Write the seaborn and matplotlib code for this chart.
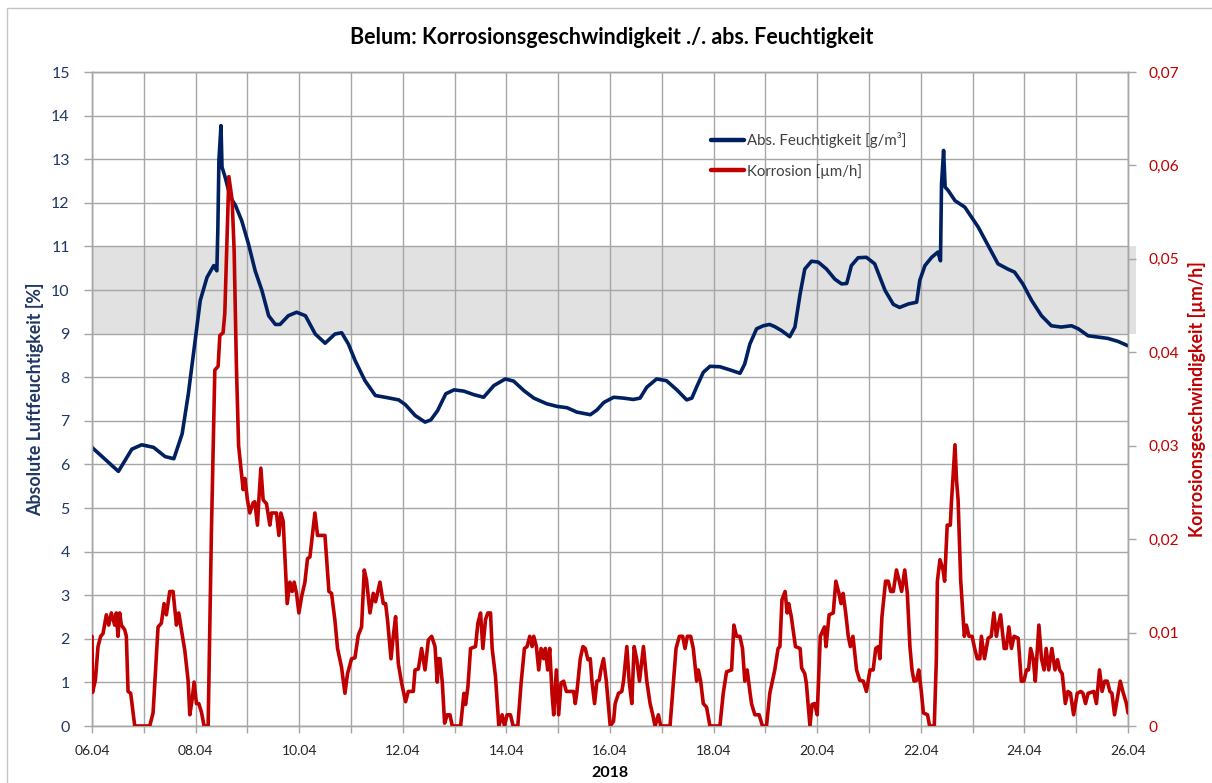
import matplotlib
matplotlib.use("Agg")
import matplotlib.pyplot as plt
from matplotlib.lines import Line2D
from matplotlib.patches import Rectangle
import pandas as pd
import seaborn as sns

# Tage seit 06.04.2018 00:00 -> absolute Feuchtigkeit [g/m³]
feuchte_tage = [
    0.00, 0.51, 0.77, 0.96, 1.19, 1.41, 1.58, 1.74, 1.86, 1.99, 2.09, 2.22, 2.35, 2.41,
    2.43, 2.45, 2.49, 2.51, 2.57, 2.67, 2.77, 2.89, 3.02, 3.15, 3.28, 3.41, 3.54, 3.63,
    3.79, 3.95, 4.12, 4.31, 4.50, 4.69, 4.82, 4.95, 5.08, 5.27, 5.47, 5.66, 5.92, 6.05,
    6.24, 6.43, 6.54, 6.67, 6.83, 6.99, 7.18, 7.37, 7.56, 7.76, 7.98, 8.14, 8.34, 8.53,
    8.78, 8.98, 9.17, 9.36, 9.62, 9.75, 9.88, 10.07, 10.26, 10.45, 10.58, 10.71, 10.90,
    11.09, 11.29, 11.48, 11.58, 11.67, 11.80, 11.93, 12.12, 12.31, 12.51, 12.60, 12.70,
    12.83, 12.96, 13.08, 13.18, 13.31, 13.47, 13.57, 13.67, 13.76, 13.89, 14.02, 14.18,
    14.34, 14.47, 14.57, 14.66, 14.79, 14.95, 15.11, 15.31, 15.47, 15.59, 15.76, 15.92,
    15.98, 16.08, 16.21, 16.33, 16.38, 16.40, 16.44, 16.47, 16.53, 16.66, 16.85, 16.98,
    17.11, 17.30, 17.49, 17.68, 17.81, 17.97, 18.14, 18.33, 18.52, 18.71, 18.91, 19.04,
    19.23, 19.42, 19.61, 19.81, 20.00,
]
feuchte_werte = [
    6.39, 5.84, 6.35, 6.45, 6.39, 6.18, 6.13, 6.70, 7.62, 8.84, 9.76, 10.29, 10.56, 10.44,
    11.44, 12.97, 13.77, 12.82, 12.59, 12.13, 11.94, 11.59, 11.06, 10.44, 9.99, 9.41, 9.21, 9.21,
    9.41, 9.49, 9.41, 8.99, 8.78, 8.99, 9.02, 8.76, 8.38, 7.92, 7.58, 7.54, 7.48, 7.37,
    7.12, 6.97, 7.02, 7.23, 7.62, 7.71, 7.68, 7.60, 7.54, 7.81, 7.96, 7.91, 7.69, 7.52,
    7.39, 7.33, 7.30, 7.20, 7.14, 7.25, 7.42, 7.54, 7.52, 7.49, 7.52, 7.77, 7.96,
    7.92, 7.71, 7.48, 7.52, 7.77, 8.11, 8.25, 8.24, 8.17, 8.09, 8.30, 8.76,
    9.11, 9.18, 9.21, 9.16, 9.07, 8.93, 9.15, 9.91, 10.48, 10.66, 10.64, 10.48,
    10.25, 10.14, 10.15, 10.56, 10.74, 10.75, 10.60, 9.99, 9.67, 9.60, 9.68, 9.72,
    10.22, 10.56, 10.75, 10.87, 10.67, 12.43, 13.20, 12.36, 12.28, 12.05, 11.90, 11.67,
    11.44, 11.02, 10.60, 10.48, 10.41, 10.14, 9.76, 9.41, 9.18, 9.15, 9.18, 9.11,
    8.95, 8.92, 8.89, 8.82, 8.72,
]

# Tage seit 06.04.2018 00:00 -> Korrosionsgeschwindigkeit [µm/h]
korrosion_tage = [
    0.000, 0.010, 0.065, 0.116, 0.168, 0.213, 0.277, 0.322, 0.374, 0.438, 0.470, 0.502,
    0.535, 0.567, 0.631, 0.663, 0.696, 0.747, 0.825, 1.114, 1.179, 1.275, 1.339, 1.391,
    1.436, 1.501, 1.565, 1.630, 1.675, 1.726, 1.791, 1.855, 1.888, 1.932, 1.971, 2.016,
    2.062, 2.112, 2.164, 2.242, 2.305, 2.371, 2.435, 2.468, 2.531, 2.564, 2.642, 2.705,
    2.744, 2.788, 2.830, 2.899, 2.918, 2.951, 3.001, 3.047, 3.111, 3.143, 3.194, 3.221,
    3.260, 3.304, 3.368, 3.434, 3.465, 3.561, 3.608, 3.646, 3.691, 3.724, 3.768, 3.820,
    3.865, 3.903, 3.948, 3.994, 4.045, 4.110, 4.160, 4.207, 4.251, 4.303, 4.354, 4.497,
    4.574, 4.624, 4.690, 4.740, 4.817, 4.883, 4.933, 5.011, 5.076, 5.140, 5.204, 5.256,
    5.300, 5.366, 5.430, 5.474, 5.559, 5.623, 5.668, 5.706, 5.772, 5.816, 5.861, 5.913,
    5.977, 6.054, 6.106, 6.203, 6.236, 6.300, 6.363, 6.429, 6.493, 6.557, 6.622, 6.665,
    6.690, 6.718, 6.763, 6.807, 6.859, 6.910, 6.955, 7.116, 7.180, 7.212, 7.257, 7.308,
    7.404, 7.449, 7.501, 7.546, 7.597, 7.642, 7.693, 7.725, 7.789, 7.854, 7.918, 7.963,
    8.014, 8.078, 8.130, 8.220, 8.284, 8.348, 8.399, 8.451, 8.496, 8.528, 8.579, 8.624,
    8.669, 8.720, 8.752, 8.797, 8.836, 8.881, 8.913, 8.964, 9.009, 9.054, 9.105, 9.157,
    9.298, 9.330, 9.362, 9.426, 9.478, 9.522, 9.574, 9.619, 9.651, 9.702, 9.747, 9.792,
    9.824, 9.875, 9.927, 10.004, 10.068, 10.100, 10.164, 10.228, 10.261, 10.325, 10.370,
    10.421, 10.466, 10.517, 10.569, 10.646, 10.710, 10.774, 10.825, 10.870, 10.934,
    10.979, 11.159, 11.211, 11.275, 11.339, 11.403, 11.448, 11.493, 11.557, 11.608,
    11.673, 11.705, 11.750, 11.801, 11.865, 11.929, 12.122, 12.186, 12.250, 12.347,
    12.392, 12.443, 12.507, 12.558, 12.603, 12.648, 12.700, 12.732, 12.796, 12.879,
    12.943, 13.021, 13.085, 13.181, 13.245, 13.280, 13.320, 13.380, 13.420, 13.450,
    13.500, 13.580, 13.670, 13.700, 13.760, 13.790, 13.860, 13.900, 13.950, 14.000,
    14.060, 14.140, 14.170, 14.230, 14.310, 14.360, 14.420, 14.460, 14.500, 14.550,
    14.600, 14.640, 14.690, 14.760, 14.820, 14.890, 14.950, 15.020, 15.080, 15.130,
    15.180, 15.210, 15.250, 15.320, 15.370, 15.420, 15.470, 15.530, 15.580, 15.630,
    15.690, 15.740, 15.790, 15.830, 15.870, 15.920, 15.960, 16.010, 16.050, 16.130,
    16.170, 16.260, 16.300, 16.320, 16.370, 16.430, 16.460, 16.510, 16.570, 16.590,
    16.660, 16.690, 16.720, 16.770, 16.840, 16.880, 16.930, 16.990, 17.040, 17.090,
    17.140, 17.170, 17.230, 17.300, 17.360, 17.410, 17.460, 17.490, 17.540, 17.610,
    17.650, 17.700, 17.750, 17.800, 17.880, 17.940, 17.990, 18.040, 18.080, 18.120,
    18.170, 18.210, 18.280, 18.330, 18.380, 18.420, 18.470, 18.530, 18.590, 18.640,
    18.680, 18.730, 18.790, 18.840, 18.890, 18.950, 19.020, 19.090, 19.130, 19.180,
    19.230, 19.340, 19.390, 19.450, 19.500, 19.550, 19.600, 19.650, 19.690, 19.740,
    19.810, 19.850, 19.900, 19.970, 20.000,
]
korrosion_werte = [
    0.0096, 0.0036, 0.0049, 0.0085, 0.0096, 0.0099, 0.0119, 0.0108, 0.0121, 0.0108, 0.0121, 0.0096,
    0.0121, 0.0108, 0.0103, 0.0096, 0.0037, 0.0035, 0.0000, 0.0000, 0.0014, 0.0106, 0.0110, 0.0131,
    0.0119, 0.0144, 0.0144, 0.0108, 0.0121, 0.0103, 0.0081, 0.0049, 0.0012, 0.0028, 0.0047, 0.0024,
    0.0024, 0.0015, 0.0000, 0.0000, 0.0207, 0.0381, 0.0385, 0.0418, 0.0421, 0.0442, 0.0588, 0.0563,
    0.0509, 0.0385, 0.0300, 0.0263, 0.0253, 0.0265, 0.0242, 0.0228, 0.0239, 0.0240, 0.0215, 0.0242,
    0.0276, 0.0242, 0.0238, 0.0215, 0.0228, 0.0228, 0.0204, 0.0228, 0.0219, 0.0181, 0.0131, 0.0154,
    0.0144, 0.0154, 0.0142, 0.0121, 0.0138, 0.0154, 0.0179, 0.0181, 0.0203, 0.0228, 0.0204, 0.0204,
    0.0144, 0.0142, 0.0113, 0.0083, 0.0063, 0.0035, 0.0056, 0.0072, 0.0073, 0.0097, 0.0106, 0.0167,
    0.0156, 0.0121, 0.0142, 0.0133, 0.0154, 0.0131, 0.0131, 0.0113, 0.0072, 0.0096, 0.0117, 0.0067,
    0.0046, 0.0026, 0.0037, 0.0037, 0.0060, 0.0061, 0.0083, 0.0060, 0.0092, 0.0096, 0.0085, 0.0047,
    0.0072, 0.0072, 0.0046, 0.0003, 0.0012, 0.0012, 0.0000, 0.0000, 0.0035, 0.0023, 0.0042, 0.0083,
    0.0085, 0.0110, 0.0121, 0.0083, 0.0114, 0.0121, 0.0121, 0.0083, 0.0053, 0.0000, 0.0012, 0.0000,
    0.0012, 0.0012, 0.0000, 0.0000, 0.0046, 0.0083, 0.0085, 0.0096, 0.0085, 0.0096, 0.0085, 0.0060,
    0.0083, 0.0072, 0.0083, 0.0060, 0.0083, 0.0035, 0.0012, 0.0060, 0.0012, 0.0046, 0.0048, 0.0037,
    0.0037, 0.0024, 0.0037, 0.0072, 0.0085, 0.0083, 0.0071, 0.0072, 0.0048, 0.0024, 0.0048, 0.0049,
    0.0060, 0.0072, 0.0049, 0.0000, 0.0005, 0.0024, 0.0035, 0.0037, 0.0048, 0.0085, 0.0048,
    0.0024, 0.0085, 0.0071, 0.0048, 0.0085, 0.0048, 0.0024, 0.0012, 0.0000, 0.0012,
    0.0000, 0.0000, 0.0037, 0.0083, 0.0096, 0.0096, 0.0083, 0.0096, 0.0096, 0.0083,
    0.0048, 0.0060, 0.0048, 0.0024, 0.0020, 0.0000, 0.0000, 0.0035, 0.0058, 0.0060,
    0.0108, 0.0096, 0.0096, 0.0083, 0.0048, 0.0060, 0.0037, 0.0024, 0.0012, 0.0012,
    0.0000, 0.0000, 0.0035, 0.0060, 0.0083, 0.0085, 0.0135, 0.0144, 0.0121, 0.0131,
    0.0117, 0.0085, 0.0083, 0.0062, 0.0056, 0.0046, 0.0000, 0.0023, 0.0024, 0.0012,
    0.0096, 0.0106, 0.0085, 0.0119, 0.0121, 0.0155, 0.0142, 0.0131, 0.0142, 0.0121,
    0.0096, 0.0085, 0.0096, 0.0060, 0.0049, 0.0048, 0.0037, 0.0060, 0.0060, 0.0083,
    0.0085, 0.0072, 0.0117, 0.0155, 0.0155, 0.0144, 0.0144, 0.0167, 0.0156, 0.0144,
    0.0167, 0.0142, 0.0085, 0.0060, 0.0048, 0.0049, 0.0060, 0.0037, 0.0014, 0.0012,
    0.0000, 0.0000, 0.0071, 0.0155, 0.0178, 0.0167, 0.0155, 0.0215, 0.0215, 0.0238,
    0.0301, 0.0263, 0.0242, 0.0156, 0.0096, 0.0108, 0.0096, 0.0096, 0.0083, 0.0072,
    0.0072, 0.0096, 0.0072, 0.0094, 0.0096, 0.0121, 0.0096, 0.0106, 0.0119, 0.0083,
    0.0083, 0.0106, 0.0083, 0.0096, 0.0094, 0.0048, 0.0048, 0.0060, 0.0060, 0.0083,
    0.0072, 0.0048, 0.0108, 0.0072, 0.0060, 0.0083, 0.0060, 0.0083, 0.0060, 0.0071,
    0.0060, 0.0056, 0.0024, 0.0037, 0.0035, 0.0012, 0.0035, 0.0037, 0.0035, 0.0024,
    0.0035, 0.0037, 0.0024, 0.0060, 0.0037, 0.0048, 0.0048, 0.0037, 0.0035, 0.0012,
    0.0035, 0.0048, 0.0037, 0.0024, 0.0014,
]

datum_labels = ["06.04", "08.04", "10.04", "12.04", "14.04", "16.04",
                "18.04", "20.04", "22.04", "24.04", "26.04"]
feuchte_ticks = list(range(0, 16))
korrosion_ticks = [0.0, 0.01, 0.02, 0.03, 0.04, 0.05, 0.06, 0.07]
korrosion_ticklabels = ["0", "0,01", "0,02", "0,03", "0,04", "0,05", "0,06", "0,07"]
band_unten, band_oben = 9, 11

BLAU = "#002060"
ROT = "#C00000"
GITTER = "#a6a6a6"

sns.set_theme(style="white")
plt.rcParams["font.family"] = ["Lato", "DejaVu Sans"]

fig = plt.figure(figsize=(12.12, 7.83), dpi=100)
ax = fig.add_axes([92 / 1212, 1 - 726 / 783, (1128 - 92) / 1212, (726 - 72) / 783])
ax2 = ax.twinx()

df_feuchte = pd.DataFrame({"tag": feuchte_tage, "wert": feuchte_werte})
df_korr = pd.DataFrame({"tag": korrosion_tage, "wert": korrosion_werte})

# Bereich erhöhter Feuchte
ax.axhspan(band_unten, band_oben, xmin=0, xmax=1.008, color="#e1e1e1", zorder=0.2,
           lw=0, clip_on=False)

sns.lineplot(data=df_feuchte, x="tag", y="wert", ax=ax, color=BLAU, lw=2.6,
             estimator=None, sort=False, zorder=3)
sns.lineplot(data=df_korr, x="tag", y="wert", ax=ax2, color=ROT, lw=2.6,
             estimator=None, sort=False, zorder=3)

# Achsen
n_tage = 20
ax.set_xlim(0, n_tage)
ax.set_ylim(0, 15)
ax2.set_ylim(0, 0.07)
ax.set_xticks(range(0, n_tage + 1))
ax.set_xticklabels([datum_labels[i // 2] if i % 2 == 0 else "" for i in range(n_tage + 1)])
ax.set_yticks(feuchte_ticks)
ax.set_yticklabels([str(v) for v in feuchte_ticks])
ax2.set_yticks(korrosion_ticks)
ax2.set_yticklabels(korrosion_ticklabels)

ax.set_axisbelow(True)
ax.grid(True, axis="both", color=GITTER, lw=1.0)
ax2.grid(False)

for a in (ax, ax2):
    for s in a.spines.values():
        s.set_color(GITTER)
        s.set_linewidth(1.0)

ax.tick_params(axis="x", direction="out", length=5, width=1, color=GITTER,
               labelsize=10, labelcolor="#262626", pad=9, bottom=True)
ax.tick_params(axis="y", direction="out", length=6, width=1, color=GITTER,
               labelsize=11.5, labelcolor="#1F3864", pad=10, left=True)
ax2.tick_params(axis="y", direction="out", length=6, width=1, color=GITTER,
                labelsize=11.2, labelcolor=ROT, pad=9, right=True)

ax.set_xlabel("2018", fontsize=11.5, fontweight="bold", color="black", labelpad=6)
ax.set_ylabel("Absolute Luftfeuchtigkeit [%]", fontsize=12.8, fontweight="bold",
              color="#1F3864", labelpad=5)
ax2.set_ylabel("Korrosionsgeschwindigkeit [µm/h]", fontsize=12.8, fontweight="bold",
               color=ROT, labelpad=6)

fig.text(0.505, 1 - 37 / 783, "Belum: Korrosionsgeschwindigkeit ./. abs. Feuchtigkeit",
         ha="center", va="center", fontsize=15.5, fontweight="bold", color="black")

handles = [Line2D([], [], color=BLAU, lw=3.2), Line2D([], [], color=ROT, lw=3.2)]
ax2.legend(handles, ["Abs. Feuchtigkeit [g/m³]", "Korrosion [µm/h]"],
           loc="upper left", bbox_to_anchor=((711 - 92) / 1036, 1 - (132 - 72) / 654),
           frameon=False, fontsize=10.8, handlelength=2.2, handletextpad=0.2,
           labelspacing=1.05, borderpad=0, borderaxespad=0, labelcolor="#404040")

# Rahmen um das Diagramm
fig.patches.append(Rectangle((7 / 1212, -0.02), 1.1, 1.02 - 8 / 783,
                             transform=fig.transFigure, fill=False,
                             edgecolor="#c4c4c4", lw=1.0))

fig.savefig("out.png", dpi=100)
